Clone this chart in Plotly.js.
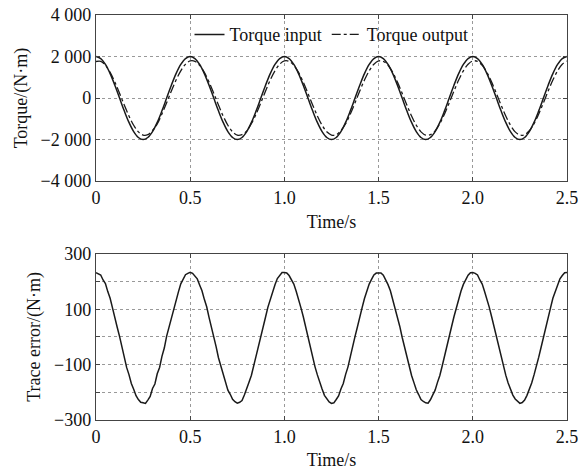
<!DOCTYPE html>
<html>
<head>
<meta charset="utf-8">
<script src="https://cdn.plot.ly/plotly-3.0.1.min.js"></script>
<style>html,body{margin:0;padding:0;background:#fff;}</style>
</head>
<body>
<div id="chart" style="width:582px;height:470px;"></div>
<script>
// Time samples for torque (step 0.025 s)
const timeTorque = [0,0.025,0.05,0.075,0.1,0.125,0.15,0.175,0.2,0.225,0.25,0.275,0.3,0.325,0.35,0.375,0.4,0.425,0.45,0.475,
0.5,0.525,0.55,0.575,0.6,0.625,0.65,0.675,0.7,0.725,0.75,0.775,0.8,0.825,0.85,0.875,0.9,0.925,0.95,0.975,
1.0,1.025,1.05,1.075,1.1,1.125,1.15,1.175,1.2,1.225,1.25,1.275,1.3,1.325,1.35,1.375,1.4,1.425,1.45,1.475,
1.5,1.525,1.55,1.575,1.6,1.625,1.65,1.675,1.7,1.725,1.75,1.775,1.8,1.825,1.85,1.875,1.9,1.925,1.95,1.975,
2.0,2.025,2.05,2.075,2.1,2.125,2.15,2.175,2.2,2.225,2.25,2.275,2.3,2.325,2.35,2.375,2.4,2.425,2.45,2.475,2.5];

const torqueInput = [2000,1902,1618,1176,618,0,-618,-1176,-1618,-1902,-2000,-1902,-1618,-1176,-618,0,618,1176,1618,1902,
2000,1902,1618,1176,618,0,-618,-1176,-1618,-1902,-2000,-1902,-1618,-1176,-618,0,618,1176,1618,1902,
2000,1902,1618,1176,618,0,-618,-1176,-1618,-1902,-2000,-1902,-1618,-1176,-618,0,618,1176,1618,1902,
2000,1902,1618,1176,618,0,-618,-1176,-1618,-1902,-2000,-1902,-1618,-1176,-618,0,618,1176,1618,1902,
2000,1902,1618,1176,618,0,-618,-1176,-1618,-1902,-2000,-1902,-1618,-1176,-618,0,618,1176,1618,1902,2000];

const torqueOutput = [1760,1768,1577,1233,766,226,-337,-867,-1312,-1629,-1786,-1768,-1560,-1245,-766,-226,337,867,1312,1629,
1786,1768,1577,1233,766,226,-337,-867,-1312,-1629,-1790,-1760,-1585,-1225,-766,-226,337,867,1312,1629,
1786,1768,1577,1233,766,226,-337,-867,-1312,-1629,-1782,-1772,-1565,-1240,-766,-226,337,867,1312,1629,
1786,1768,1577,1233,766,226,-337,-867,-1312,-1629,-1788,-1765,-1580,-1230,-766,-226,337,867,1312,1629,
1786,1768,1577,1233,766,226,-337,-867,-1312,-1629,-1785,-1770,-1570,-1238,-766,-226,337,867,1312,1629,1786];

// Time samples for trace error (step 0.0125 s)
const timeError = [];
for (let i = 0; i <= 200; i++) timeError.push(+(i * 0.0125).toFixed(4));

const traceError = [
232,229,224,206,193,164,140,105,75,35,2,-38,-72,-110,-136,-168,-189,-212,-226,-236,-238,-240,-228,-215,-186,-170,-133,-110,-70,-40,3,35,76,104,141,163,192,207,225,230,
234,230,221,210,188,167,136,109,71,39,-2,-35,-75,-105,-140,-164,-192,-207,-225,-234,-239,-236,-230,-210,-190,-163,-138,-104,-74,-36,1,39,72,108,137,168,189,211,222,233,
233,231,222,207,191,165,139,106,74,36,1,-39,-71,-108,-137,-167,-188,-211,-224,-235,-240,-238,-226,-213,-188,-168,-135,-108,-71,-39,2,36,75,106,139,165,191,208,224,231,
232,231,223,208,189,167,137,108,72,38,-1,-36,-74,-106,-139,-165,-191,-208,-226,-233,-238,-239,-227,-209,-192,-164,-139,-105,-72,-37,0,38,73,107,138,166,190,209,223,232,
233,230,224,206,191,164,139,107,73,37,2,-37,-73,-107,-138,-166,-190,-210,-224,-234,-240,-237,-228,-211,-189,-166,-137,-107,-73,-37,1,37,74,105,140,165,190,210,222,232,
233];

const xTickVals = [0,0.5,1.0,1.5,2.0,2.5];
const xTickText = ['0','0.5','1.0','1.5','2.0','2.5'];
const y1TickVals = [-4000,-2000,0,2000,4000];
const y1TickText = ['\u22124 000','\u22122 000','0','2 000','4 000'];
const y2TickVals = [-300,-200,-100,0,100,200,300];
const y2TickText = ['\u2212300','','\u2212100','','100','','300'];

const FONT = 'Liberation Serif, Times New Roman, serif';
const FS = 18;
const lineCol = '#1a1a1a';

const traces = [
  {x: timeTorque, y: torqueInput, name: 'Torque input', type: 'scatter', mode: 'lines',
   line: {color: lineCol, width: 1.5, shape: 'spline'}, xaxis: 'x', yaxis: 'y'},
  {x: timeTorque, y: torqueOutput, name: 'Torque output', type: 'scatter', mode: 'lines',
   line: {color: lineCol, width: 1.3, dash: 'dashdot', shape: 'spline'}, xaxis: 'x', yaxis: 'y'},
  {x: timeError, y: traceError, name: 'Trace error', type: 'scatter', mode: 'lines', showlegend: false,
   line: {color: lineCol, width: 1.5}, xaxis: 'x2', yaxis: 'y2'}
];

const axisCommon = {
  showline: true, linecolor: '#444', linewidth: 1.2, mirror: 'allticks',
  ticks: 'inside', ticklen: 4, tickcolor: '#444',
  showgrid: true, gridcolor: '#999', griddash: 'dot', gridwidth: 1,
  zeroline: false, tickfont: {family: FONT, size: FS, color: '#111'}
};

const layout = {
  width: 582, height: 470,
  margin: {l: 96, r: 15, t: 15, b: 50},
  paper_bgcolor: '#fff', plot_bgcolor: '#fff',
  font: {family: FONT, size: FS, color: '#111'},
  showlegend: true,
  legend: {orientation: 'h', x: 0.5, xanchor: 'center', y: 0.997, yanchor: 'top',
           bgcolor: 'rgba(255,255,255,0)', font: {family: FONT, size: FS}, tracegroupgap: 0,
           itemwidth: 30},
  xaxis: Object.assign({}, axisCommon, {domain: [0, 1], anchor: 'y', range: [0, 2.5],
    tickvals: xTickVals, ticktext: xTickText,
    title: {text: 'Time/s', font: {family: FONT, size: FS}, standoff: 8}}),
  yaxis: Object.assign({}, axisCommon, {domain: [0.59, 1], anchor: 'x', range: [-4000, 4000],
    tickvals: y1TickVals, ticktext: y1TickText,
    title: {text: 'Torque/(N\u00b7m)', font: {family: FONT, size: FS}, standoff: 8}}),
  xaxis2: Object.assign({}, axisCommon, {domain: [0, 1], anchor: 'y2', range: [0, 2.5],
    tickvals: xTickVals, ticktext: xTickText,
    title: {text: 'Time/s', font: {family: FONT, size: FS}, standoff: 8}}),
  yaxis2: Object.assign({}, axisCommon, {domain: [0, 0.41], anchor: 'x2', range: [-300, 300],
    tickvals: y2TickVals, ticktext: y2TickText,
    title: {text: 'Trace error/(N\u00b7m)', font: {family: FONT, size: FS}, standoff: 8}})
};

Plotly.newPlot('chart', traces, layout, {displayModeBar: false, staticPlot: true});
</script>
</body>
</html>
